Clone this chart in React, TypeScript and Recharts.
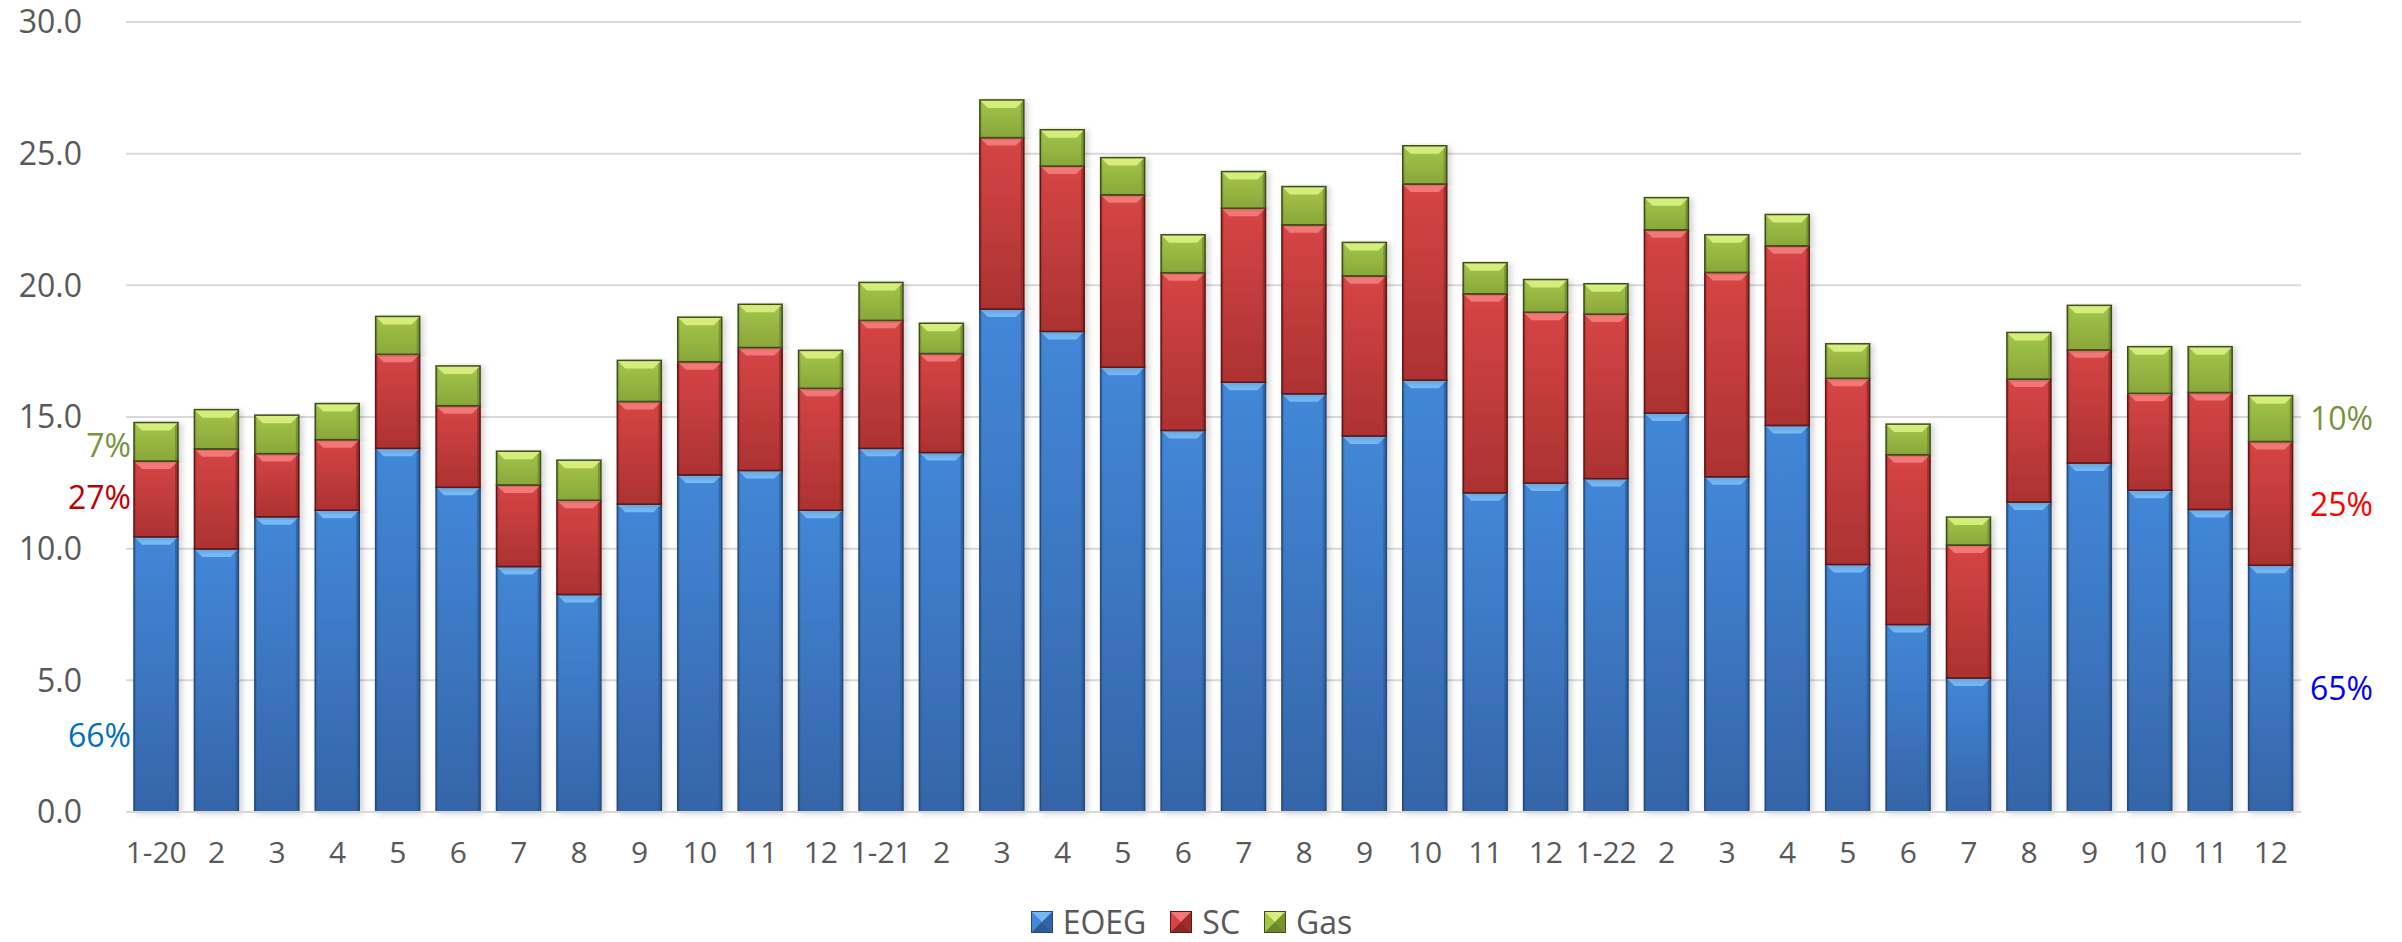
import React from 'react';
import { BarChart, Bar, XAxis, YAxis, CartesianGrid, Legend } from 'recharts';

const months = [
  '1-20', '2', '3', '4', '5', '6', '7', '8', '9', '10', '11', '12',
  '1-21', '2', '3', '4', '5', '6', '7', '8', '9', '10', '11', '12',
  '1-22', '2', '3', '4', '5', '6', '7', '8', '9', '10', '11', '12',
];

const eoeg = [
  10.45, 9.99, 11.21, 11.46, 13.81, 12.33, 9.32, 8.26, 11.69, 12.8, 12.97, 11.46,
  13.81, 13.65, 19.1, 18.25, 16.89, 14.49, 16.32, 15.88, 14.28, 16.4, 12.12, 12.49,
  12.66, 15.15, 12.73, 14.68, 9.4, 7.12, 5.09, 11.77, 13.25, 12.22, 11.49, 9.37,
];

const sc = [
  2.88, 3.8, 2.4, 2.68, 3.57, 3.1, 3.1, 3.58, 3.9, 4.3, 4.67, 4.63,
  4.86, 3.76, 6.51, 6.28, 6.55, 5.99, 6.61, 6.42, 6.08, 7.45, 7.56, 6.49,
  6.25, 6.96, 7.76, 6.82, 7.07, 6.45, 5.05, 4.67, 4.3, 3.68, 4.44, 4.7,
];

const gas = [
  1.46, 1.49, 1.46, 1.37, 1.44, 1.51, 1.28, 1.52, 1.56, 1.69, 1.64, 1.44,
  1.44, 1.15, 1.43, 1.38, 1.41, 1.44, 1.39, 1.45, 1.27, 1.45, 1.18, 1.24,
  1.15, 1.22, 1.43, 1.19, 1.31, 1.16, 1.06, 1.77, 1.69, 1.77, 1.74, 1.74,
];

const yTicks = [0, 5, 10, 15, 20, 25, 30];

const leftShares = [
  { text: '7%', color: '#77933C', y: 445 },
  { text: '27%', color: '#C00000', y: 497 },
  { text: '66%', color: '#0070C0', y: 735 },
];
const rightShares = [
  { text: '10%', color: '#77933C', y: 418 },
  { text: '25%', color: '#FF0000', y: 504 },
  { text: '65%', color: '#0000FF', y: 688 },
];

const data = months.map((m, i) => ({ month: m, EOEG: eoeg[i], SC: sc[i], Gas: gas[i] }));

const palette = {
  EOEG: { id: 'blue', g1: '#4387D8', g2: '#3565A8', top: '#74B9F7', side: '#2E5B96', edge: '#254A7A' },
  SC: { id: 'red', g1: '#D64545', g2: '#AC3232', top: '#F27777', side: '#8E2626', edge: '#5C1515' },
  Gas: { id: 'green', g1: '#A3C54A', g2: '#8AA73A', top: '#D5ED7A', side: '#6C862B', edge: '#3E4E1B' },
};

type Pal = (typeof palette)['EOEG'];

const bevelShape = (c: Pal) => (props: any) => {
  const { x, y, width: w, height: h } = props;
  if (!h || h <= 0) return null;
  const b = Math.min(8, h / 2, w / 2);
  const s = 3;
  return (
    <g filter="url(#barShadow)">
      <rect x={x} y={y} width={w} height={h} fill={`url(#grad-${c.id})`} />
      <rect x={x + w - s} y={y} width={s} height={h} fill={c.side} opacity={0.7} />
      <rect x={x} y={y} width={s - 1} height={h} fill={c.side} opacity={0.35} />
      <polygon points={`${x},${y} ${x + w},${y} ${x + w - b},${y + b} ${x + b},${y + b}`} fill={c.top} />
      <rect x={x} y={y} width={w} height={h} fill="none" stroke={c.edge} strokeWidth={1.5} />
    </g>
  );
};

const LegendIcon = ({ c }: { c: Pal }) => (
  <svg width={22} height={22} style={{ display: 'block' }}>
    <rect x={0} y={0} width={22} height={22} fill={c.g1} />
    <polygon points="0,0 22,0 11,11" fill={c.top} />
    <polygon points="0,22 22,22 11,11" fill={c.side} />
    <polygon points="22,0 22,22 11,11" fill={c.side} opacity={0.8} />
    <rect x={0.5} y={0.5} width={21} height={21} fill="none" stroke={c.edge} />
  </svg>
);

const renderLegend = () => (
  <div
    style={{
      display: 'flex',
      justifyContent: 'center',
      gap: 24,
      height: 40,
      alignItems: 'center',
      transform: 'translateX(41px)',
    }}
  >
    {(['EOEG', 'SC', 'Gas'] as const).map((k) => (
      <div key={k} style={{ display: 'flex', alignItems: 'center', gap: 10 }}>
        <LegendIcon c={palette[k]} />
        <span style={{ color: '#595959', fontSize: 32, lineHeight: 1 }}>{k}</span>
      </div>
    ))}
  </div>
);

export default function App() {
  const font = "'Open Sans', sans-serif";
  return (
    <div style={{ position: 'absolute', left: 0, top: 0, width: 2402, height: 942, background: '#fff', fontFamily: font }}>
      <BarChart width={2402} height={942} data={data} margin={{ top: 22, right: 101, left: 0, bottom: 0 }}>
        <defs>
          {Object.values(palette).map((c) => (
            <linearGradient key={c.id} id={`grad-${c.id}`} x1="0" y1="0" x2="0" y2="1">
              <stop offset="0%" stopColor={c.g1} />
              <stop offset="100%" stopColor={c.g2} />
            </linearGradient>
          ))}
          <filter id="barShadow" x="-20%" y="-5%" width="150%" height="110%">
            <feDropShadow dx={3} dy={1} stdDeviation={3} floodColor="#000" floodOpacity={0.18} />
          </filter>
        </defs>
        <CartesianGrid vertical={false} stroke="#D9D9D9" strokeWidth={2} />
        <XAxis
          dataKey="month"
          height={90}
          tickSize={0}
          tickMargin={30}
          interval={0}
          axisLine={{ stroke: '#D9D9D9', strokeWidth: 2 }}
          tickLine={false}
          tick={{ fontSize: 30, fill: '#595959', fontFamily: font }}
        />
        <YAxis
          width={126}
          domain={[0, 30]}
          ticks={yTicks}
          tickSize={0}
          tickMargin={44}
          axisLine={false}
          tickLine={false}
          tickFormatter={(v: number) => v.toFixed(1)}
          tick={{ fontSize: 32, fill: '#595959', fontFamily: font }}
        />
        <Legend verticalAlign="bottom" content={renderLegend} wrapperStyle={{ bottom: 0 }} />
        <Bar dataKey="EOEG" stackId="a" barSize={44} shape={bevelShape(palette.EOEG)} isAnimationActive={false} />
        <Bar dataKey="SC" stackId="a" barSize={44} shape={bevelShape(palette.SC)} isAnimationActive={false} />
        <Bar dataKey="Gas" stackId="a" barSize={44} shape={bevelShape(palette.Gas)} isAnimationActive={false} />
      </BarChart>
      {leftShares.map((s) => (
        <div
          key={s.text}
          style={{ position: 'absolute', right: 2402 - 131, top: s.y, transform: 'translateY(-50%)', color: s.color, fontSize: 32, lineHeight: 1 }}
        >
          {s.text}
        </div>
      ))}
      {rightShares.map((s) => (
        <div
          key={s.text}
          style={{ position: 'absolute', left: 2310, top: s.y, transform: 'translateY(-50%)', color: s.color, fontSize: 32, lineHeight: 1 }}
        >
          {s.text}
        </div>
      ))}
    </div>
  );
}
